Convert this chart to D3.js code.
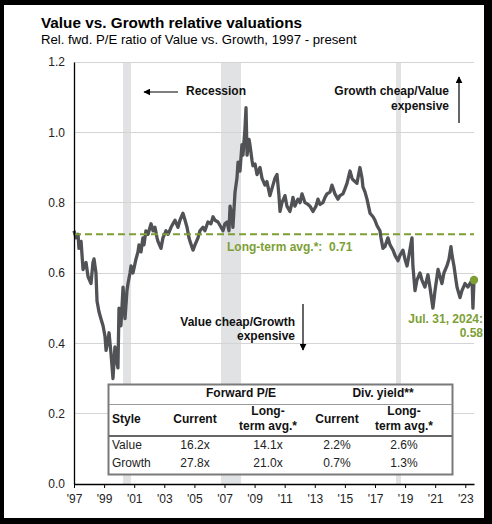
<!DOCTYPE html>
<html><head><meta charset="utf-8">
<script src="https://cdn.jsdelivr.net/npm/d3@7"></script>
<style>
body{margin:0;background:#000;}
svg{display:block;}
text{font-family:"Liberation Sans",Arial,Helvetica,sans-serif;}
</style></head>
<body><svg id="chart" width="492" height="524"></svg>
<script>
// ---- data (x positions are in the chart's displayed year units) ----
const years = [1997.00,1997.13,1997.27,1997.33,1997.47,1997.60,1997.80,1997.93,1998.13,1998.26,1998.33,1998.46,1998.53,1998.66,1998.79,1998.93,
1999.06,1999.13,1999.26,1999.33,1999.46,1999.59,1999.72,1999.79,1999.92,1999.99,2000.12,2000.26,2000.39,2000.52,2000.59,2000.72,2000.79,2000.92,
2001.12,2001.25,2001.32,2001.45,2001.58,2001.65,2001.78,2001.92,2002.12,2002.25,2002.38,2002.52,2002.58,2002.78,2002.91,
2003.11,2003.25,2003.45,2003.64,2003.71,2003.91,2004.04,2004.24,2004.38,2004.51,2004.64,2004.71,2004.91,
2005.04,2005.24,2005.37,2005.57,2005.70,2005.90,2006.10,2006.24,2006.37,2006.57,2006.77,2006.90,
2007.03,2007.17,2007.30,2007.37,2007.50,2007.56,2007.70,2007.83,2007.90,2008.03,2008.16,2008.23,2008.36,2008.43,2008.50,2008.63,2008.69,2008.83,2008.89,
2009.03,2009.16,2009.36,2009.49,2009.69,2009.82,2010.02,2010.22,2010.36,2010.49,2010.62,2010.69,2010.82,
2011.02,2011.15,2011.35,2011.49,2011.55,2011.68,2011.88,2012.02,2012.15,2012.35,2012.55,2012.68,2012.88,
2013.08,2013.21,2013.35,2013.54,2013.68,2013.81,2014.01,2014.14,2014.34,2014.54,2014.67,2014.87,
2015.01,2015.14,2015.34,2015.47,2015.54,2015.67,2015.80,2016.00,2016.14,2016.20,2016.34,2016.47,2016.67,2016.87,
2017.00,2017.13,2017.33,2017.40,2017.53,2017.66,2017.86,2018.00,2018.20,2018.33,2018.53,2018.66,2018.86,2018.99,
2019.13,2019.26,2019.46,2019.52,2019.66,2019.79,2019.99,2020.12,2020.32,2020.52,2020.65,2020.85,2020.99,
2021.19,2021.32,2021.45,2021.58,2021.78,2021.92,2022.05,2022.12,2022.25,2022.38,2022.45,2022.65,2022.78,2022.98,
2023.18,2023.31,2023.45,2023.51,2023.58];
const values = [0.72,0.70,0.71,0.67,0.69,0.61,0.63,0.59,0.57,0.63,0.64,0.60,0.52,0.49,0.47,0.45,
0.42,0.38,0.41,0.43,0.37,0.30,0.39,0.36,0.33,0.50,0.45,0.56,0.47,0.55,0.57,0.60,0.62,0.60,
0.64,0.66,0.68,0.66,0.70,0.68,0.72,0.71,0.74,0.72,0.73,0.70,0.69,0.67,0.70,
0.72,0.71,0.73,0.745,0.75,0.73,0.75,0.77,0.75,0.73,0.70,0.69,0.665,
0.68,0.70,0.72,0.73,0.72,0.745,0.74,0.76,0.75,0.745,0.73,0.72,
0.74,0.745,0.72,0.79,0.76,0.73,0.83,0.87,0.915,0.89,0.965,0.935,1.01,1.07,0.935,0.98,0.965,0.92,0.905,
0.91,0.88,0.90,0.87,0.85,0.86,0.82,0.85,0.87,0.88,0.82,0.775,0.80,
0.82,0.79,0.775,0.80,0.815,0.79,0.81,0.80,0.825,0.80,0.795,0.79,0.775,
0.79,0.81,0.795,0.80,0.815,0.825,0.83,0.85,0.825,0.81,0.82,0.825,
0.84,0.855,0.89,0.87,0.865,0.86,0.855,0.90,0.87,0.845,0.83,0.81,0.77,0.76,
0.75,0.735,0.72,0.70,0.67,0.675,0.70,0.68,0.665,0.65,0.635,0.65,0.665,0.64,
0.62,0.65,0.70,0.62,0.55,0.58,0.60,0.58,0.56,0.595,0.56,0.50,0.55,
0.61,0.59,0.57,0.60,0.62,0.64,0.675,0.65,0.62,0.58,0.56,0.53,0.55,0.57,
0.56,0.57,0.58,0.50,0.58];
const yTickValues = [0.0,0.2,0.4,0.6,0.8,1.0,1.2];
const xTickYears = [1997,1999,2001,2003,2005,2007,2009,2011,2013,2015,2017,2019,2021,2023];
const recessionStarts = [2000.26,2006.77,2018.40];
const recessionEnds = [2000.79,2008.10,2018.73];
const longTermAvg = 0.71;
const lastValue = 0.58;
const lastLabel = "Jul. 31, 2024:";
const tableGroups = ["Forward P/E","Div. yield**"];
const tableRowNames = ["Value","Growth"];
const fwdPECurrent = ["16.2x","27.8x"];
const fwdPELongTerm = ["14.1x","21.0x"];
const divYieldCurrent = ["2.2%","0.7%"];
const divYieldLongTerm = ["2.6%","1.3%"];

// ---- drawing ----
const svg = d3.select("#chart");
const green = "#7d9f35";
const lineGray = "#505255";

svg.append("rect").attr("x",4).attr("y",5).attr("width",480).attr("height",513).attr("fill","#fff");

const x = d3.scaleLinear().domain([1997, 2023.58]).range([74, 474]);
const y = d3.scaleLinear().domain([0, 1.2]).range([484, 62]);

// title
svg.append("text").attr("x",41).attr("y",27.5).attr("font-size",15.3).attr("font-weight","bold").attr("fill","#000")
  .text("Value vs. Growth relative valuations");
svg.append("text").attr("x",41).attr("y",44).attr("font-size",13.2).attr("fill","#000")
  .text("Rel. fwd. P/E ratio of Value vs. Growth, 1997 - present");

// recession bands
svg.append("g").selectAll("rect").data(recessionStarts).join("rect")
  .attr("x",(d)=>x(d)).attr("width",(d,i)=>x(recessionEnds[i])-x(d))
  .attr("y",y(1.2)).attr("height",y(0)-y(1.2)).attr("fill","#e1e2e4");

// gridlines
svg.append("g").selectAll("line").data(yTickValues.filter(v=>v>0)).join("line")
  .attr("x1",x(1997)).attr("x2",x(2023.58)).attr("y1",d=>y(d)).attr("y2",d=>y(d))
  .attr("stroke","#d4d4d4").attr("stroke-width",1).attr("shape-rendering","crispEdges");

// data line
const pts = years.map((yr,i)=>[yr,values[i]]);
svg.append("path").datum(pts)
  .attr("d", d3.line().x(d=>x(d[0])).y(d=>y(d[1])))
  .attr("fill","none").attr("stroke",lineGray).attr("stroke-width",3.3).attr("stroke-linejoin","round");

// long-term average dashed line
svg.append("line").attr("x1",x(1997)).attr("x2",x(2023.58)).attr("y1",y(longTermAvg)).attr("y2",y(longTermAvg))
  .attr("stroke",green).attr("stroke-width",2).attr("stroke-dasharray","7,4");

// axes
const yAxis = svg.append("g").attr("transform",`translate(${x(1997)},0)`)
  .call(d3.axisLeft(y).tickValues(yTickValues).tickFormat(d3.format(".1f")).tickSize(0).tickPadding(9).tickSizeOuter(0));
yAxis.select(".domain").attr("stroke","#000").attr("stroke-width",1.3);
yAxis.selectAll("text").attr("font-size",12).attr("fill","#222").attr("font-family","'Liberation Sans',Arial,sans-serif");

const xAxis = svg.append("g").attr("transform",`translate(0,${y(0)})`)
  .call(d3.axisBottom(x).tickValues(xTickYears).tickFormat(d=>"'"+String(d).slice(2)).tickSize(4).tickPadding(6.5).tickSizeOuter(0));
xAxis.select(".domain").attr("stroke","#000").attr("stroke-width",1.3);
xAxis.selectAll(".tick line").attr("stroke","#000");
xAxis.selectAll("text").attr("font-size",12).attr("fill","#222").attr("font-family","'Liberation Sans',Arial,sans-serif");

// arrow markers
const defs = svg.append("defs");
defs.append("marker").attr("id","ah").attr("viewBox","0 0 10 10").attr("refX",9).attr("refY",5)
  .attr("markerWidth",7).attr("markerHeight",7).attr("orient","auto-start-reverse").attr("markerUnits","userSpaceOnUse")
  .append("path").attr("d","M0,0 L10,5 L0,10 z").attr("fill","#000");

// annotations
const ann = svg.append("g").attr("font-size",12).attr("font-weight","bold").attr("fill","#111");
ann.append("text").attr("x",186).attr("y",95).text("Recession");
svg.append("line").attr("x1",178).attr("x2",144).attr("y1",92).attr("y2",92).attr("stroke","#000").attr("stroke-width",1.2).attr("marker-end","url(#ah)");

ann.append("text").attr("x",449).attr("y",95).attr("text-anchor","end").text("Growth cheap/Value");
ann.append("text").attr("x",449).attr("y",110).attr("text-anchor","end").text("expensive");
svg.append("line").attr("x1",459).attr("x2",459).attr("y1",123).attr("y2",77).attr("stroke","#000").attr("stroke-width",1.2).attr("marker-end","url(#ah)");

ann.append("text").attr("x",295).attr("y",326).attr("text-anchor","end").text("Value cheap/Growth");
ann.append("text").attr("x",295).attr("y",340).attr("text-anchor","end").text("expensive");
svg.append("line").attr("x1",303).attr("x2",303).attr("y1",304).attr("y2",350).attr("stroke","#000").attr("stroke-width",1.2).attr("marker-end","url(#ah)");

svg.append("text").attr("x",227).attr("y",251).attr("font-size",12).attr("font-weight","bold").attr("fill",green)
  .attr("xml:space","preserve").text("Long-term avg.*:  " + longTermAvg.toFixed(2));

svg.append("text").attr("x",483).attr("y",323).attr("text-anchor","end").attr("font-size",12).attr("font-weight","bold").attr("fill",green).text(lastLabel);
svg.append("text").attr("x",483).attr("y",337).attr("text-anchor","end").attr("font-size",12).attr("font-weight","bold").attr("fill",green).text(lastValue.toFixed(2));

svg.append("circle").attr("cx",x(years[years.length-1])).attr("cy",y(lastValue)).attr("r",4.2).attr("fill",green);

// table
const tb = svg.append("g");
tb.append("rect").attr("x",108.5).attr("y",384.5).attr("width",344).attr("height",90).attr("fill","#fff").attr("stroke","#7a7a7a").attr("stroke-width",2);
const hdr = tb.append("g").attr("font-size",12).attr("font-weight","bold").attr("fill","#111").attr("text-anchor","middle");
hdr.append("text").attr("x",241).attr("y",397).text(tableGroups[0]);
hdr.append("text").attr("x",383).attr("y",397).text(tableGroups[1]);
tb.append("line").attr("x1",109).attr("x2",452).attr("y1",404.5).attr("y2",404.5).attr("stroke","#9a9a9a").attr("stroke-width",1);
hdr.append("text").attr("x",112).attr("y",423).attr("text-anchor","start").text("Style");
hdr.append("text").attr("x",195).attr("y",423).text("Current");
hdr.append("text").attr("x",268).attr("y",415).text("Long-");
hdr.append("text").attr("x",268).attr("y",430).text("term avg.*");
hdr.append("text").attr("x",337).attr("y",423).text("Current");
hdr.append("text").attr("x",404).attr("y",415).text("Long-");
hdr.append("text").attr("x",404).attr("y",430).text("term avg.*");
tb.append("line").attr("x1",109).attr("x2",452).attr("y1",436).attr("y2",436).attr("stroke","#666").attr("stroke-width",2);
const rowY = [449,467];
const body = tb.append("g").attr("font-size",12).attr("fill","#222").attr("text-anchor","middle");
tableRowNames.forEach((name,i)=>{
  body.append("text").attr("x",112).attr("y",rowY[i]).attr("text-anchor","start").text(name);
  body.append("text").attr("x",195).attr("y",rowY[i]).text(fwdPECurrent[i]);
  body.append("text").attr("x",268).attr("y",rowY[i]).text(fwdPELongTerm[i]);
  body.append("text").attr("x",337).attr("y",rowY[i]).text(divYieldCurrent[i]);
  body.append("text").attr("x",404).attr("y",rowY[i]).text(divYieldLongTerm[i]);
});
</script></body></html>
